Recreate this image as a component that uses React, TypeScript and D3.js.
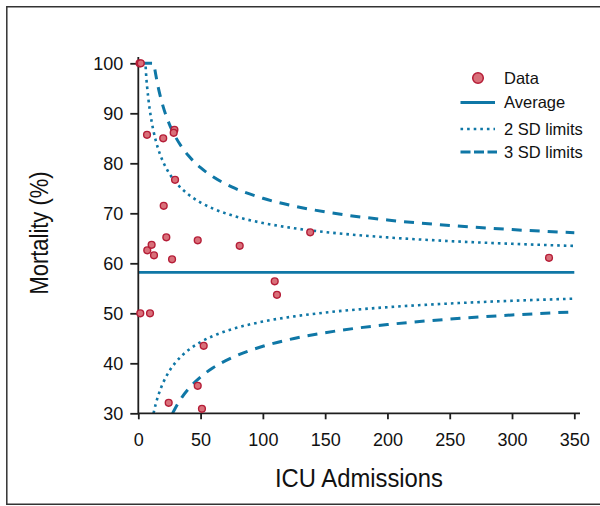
import React, { useEffect, useRef } from "react";
import * as d3 from "d3";

// ICU admissions (n) and mortality (%) per unit
const admissions = [1, 2, 7, 20, 29, 28.4, 29.5, 20.4, 138, 7.2, 10.7, 12.6, 22.5, 27.1, 47.7, 81.4, 109.5, 111.3, 1.6, 9.4, 52.5, 47.7, 24.4, 51.1, 329.7];
const mortality = [100, 100, 85.7, 85.0, 86.7, 86.1, 76.7, 71.5, 66.2, 62.6, 63.7, 61.6, 65.2, 60.8, 64.6, 63.5, 56.4, 53.7, 50, 50, 43.5, 35.5, 32.1, 30.9, 61.1];

const averageMortality = 58.2;

// control limit curves
const upper2N = [3, 5.57, 6.5, 7, 8, 9, 10, 12, 14, 16, 18, 20, 25, 30, 35, 40, 50, 60, 75, 100, 125, 150, 200, 250, 300, 350];
const upper2V = [100, 100, 96.89, 95.48, 93.08, 91.08, 89.39, 86.68, 84.56, 82.86, 81.45, 80.26, 77.93, 76.21, 74.87, 73.8, 72.15, 70.94, 69.59, 68.06, 67.02, 66.25, 65.18, 64.44, 63.9, 63.47];
const upper3N = [3, 12.5, 13, 14, 15, 16, 18, 20, 25, 30, 35, 40, 50, 60, 75, 100, 125, 150, 200, 250, 300, 350];
const upper3V = [100, 100, 99.24, 97.75, 96.41, 95.19, 93.08, 91.29, 87.79, 85.22, 83.21, 81.6, 79.13, 77.3, 75.29, 73.0, 71.44, 70.28, 68.66, 67.56, 66.74, 66.11];
const lower2N = [12.24, 13, 14, 15, 16, 18, 20, 25, 30, 35, 40, 50, 60, 75, 100, 125, 150, 200, 250, 300, 350];
const lower2V = [30, 30.84, 31.84, 32.73, 33.54, 34.95, 36.14, 38.47, 40.19, 41.53, 42.6, 44.25, 45.47, 46.81, 48.34, 49.38, 50.15, 51.22, 51.96, 52.5, 52.93];
const lower3N = [27.53, 28, 30, 32, 35, 40, 50, 60, 75, 100, 125, 150, 200, 250, 300, 350];
const lower3V = [30, 30.24, 31.18, 32.04, 33.19, 34.8, 37.27, 39.1, 41.11, 43.4, 44.96, 46.12, 47.74, 48.84, 49.66, 50.29];

const xTicks = [0, 50, 100, 150, 200, 250, 300, 350];
const yTicks = [30, 40, 50, 60, 70, 80, 90, 100];

const legendLabels = ["Data", "Average", "2 SD limits", "3 SD limits"];

const W = 600;
const H = 506;
const BLUE = "#0f77a6";
const AXIS = "#1e1e1e";
const FONT = "'Liberation Sans', Arial, Helvetica, sans-serif";

export default function App() {
  const xAxisRef = useRef<SVGGElement>(null);
  const yAxisRef = useRef<SVGGElement>(null);

  const x = d3.scaleLinear().domain([0, 350]).range([138.3, 574.3]);
  const y = d3.scaleLinear().domain([30, 100]).range([413.3, 63.3]);

  useEffect(() => {
    if (xAxisRef.current) {
      const g = d3.select(xAxisRef.current);
      g.call(d3.axisBottom(x).tickValues(xTicks).tickSize(6).tickPadding(14).tickSizeOuter(0));
      g.select(".domain").remove();
      g.selectAll(".tick line").attr("stroke", AXIS).attr("stroke-width", 1.8);
      g.selectAll(".tick text").attr("fill", "#111").style("font-size", "18px").style("font-family", FONT);
    }
    if (yAxisRef.current) {
      const g = d3.select(yAxisRef.current);
      g.call(d3.axisLeft(y).tickValues(yTicks).tickSize(8).tickPadding(7).tickSizeOuter(0));
      g.select(".domain").remove();
      g.selectAll(".tick line").attr("stroke", AXIS).attr("stroke-width", 1.8);
      g.selectAll(".tick text").attr("fill", "#111").style("font-size", "18px").style("font-family", FONT);
    }
  }, []);

  const line = d3
    .line<[number, number]>()
    .x((d) => x(d[0]))
    .y((d) => y(d[1]))
    .curve(d3.curveMonotoneX);

  const zip = (a: number[], b: number[]) => a.map((v, i) => [v, b[i]] as [number, number]);

  const dotted = "2.6,4";
  const dashed = "10,8";

  const legendX = 504;
  const rowY = [78, 102.5, 129, 152];

  return (
    <svg width={W} height={H} style={{ position: "absolute", left: 0, top: 0, background: "#fff" }}>
      <rect x={0} y={0} width={W} height={H} fill="#fff" />
      {/* frame */}
      <path d={`M${W + 2},6.8 H6.8 V504.3 H${W + 2}`} fill="none" stroke="#333" strokeWidth={1.5} />

      {/* limits */}
      <path d={line(zip(upper3N, upper3V)) || ""} fill="none" stroke={BLUE} strokeWidth={3} strokeDasharray={dashed} />
      <path d={line(zip(lower3N, lower3V)) || ""} fill="none" stroke={BLUE} strokeWidth={3} strokeDasharray={dashed} />
      <path d={line(zip(upper2N, upper2V)) || ""} fill="none" stroke={BLUE} strokeWidth={2.6} strokeDasharray={dotted} />
      <path d={line(zip(lower2N, lower2V)) || ""} fill="none" stroke={BLUE} strokeWidth={2.6} strokeDasharray={dotted} />
      <line x1={x(0)} x2={x(350)} y1={y(averageMortality)} y2={y(averageMortality)} stroke={BLUE} strokeWidth={2.8} />

      {/* axes */}
      <g ref={xAxisRef} transform={`translate(0,${y(30)})`} />
      <g ref={yAxisRef} transform={`translate(${x(0)},0)`} />
      <line x1={x(0)} x2={580} y1={y(30)} y2={y(30)} stroke={AXIS} strokeWidth={1.8} />
      <line x1={x(0)} x2={x(0)} y1={57} y2={y(30)} stroke={AXIS} strokeWidth={1.8} />

      {/* points */}
      {admissions.map((n, i) => (
        <circle key={i} cx={x(n)} cy={y(mortality[i])} r={3.4} fill="#d9707a" stroke="#b51d37" strokeWidth={1.4} />
      ))}

      {/* axis titles */}
      <text
        x={359}
        y={487}
        textAnchor="middle"
        textLength={168}
        lengthAdjust="spacingAndGlyphs"
        style={{ fontFamily: "'Liberation Sans Narrow', " + FONT, fontSize: 25, fill: "#111" }}
      >
        ICU Admissions
      </text>
      <text
        transform={`translate(47.5,233) rotate(-90)`}
        textAnchor="middle"
        textLength={123}
        lengthAdjust="spacingAndGlyphs"
        style={{ fontFamily: "'Liberation Sans Narrow', " + FONT, fontSize: 25, fill: "#111" }}
      >
        Mortality (%)
      </text>

      {/* legend */}
      <circle cx={478} cy={rowY[0]} r={5.3} fill="#d9707a" stroke="#b51d37" strokeWidth={1.5} />
      <line x1={460.5} x2={495} y1={rowY[1]} y2={rowY[1]} stroke={BLUE} strokeWidth={2.8} />
      <line x1={460.5} x2={495} y1={rowY[2]} y2={rowY[2]} stroke={BLUE} strokeWidth={2.6} strokeDasharray={dotted} />
      <line x1={460.5} x2={497} y1={rowY[3]} y2={rowY[3]} stroke={BLUE} strokeWidth={3} strokeDasharray="10,3.5" />
      {legendLabels.map((t, i) => (
        <text key={t} x={legendX} y={rowY[i] + 5.6} style={{ fontFamily: FONT, fontSize: 16.5, fill: "#111" }}>
          {t}
        </text>
      ))}
    </svg>
  );
}
